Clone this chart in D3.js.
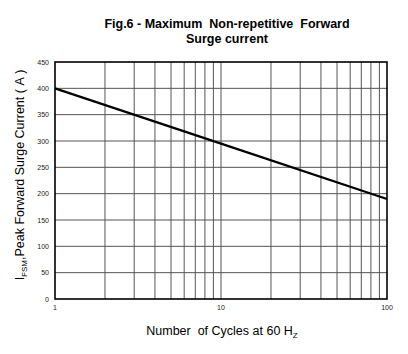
<!DOCTYPE html>
<html>
<head>
<meta charset="utf-8">
<script src="https://d3js.org/d3.v7.min.js"></script>
<style>
  body { margin: 0; background: #fff; }
  text { font-family: "Liberation Sans", Arial, sans-serif; }
</style>
</head>
<body>
<script>
// data
let cycles = [1, 10, 100];
let current = [400, 295, 190];
let yTicks = [0, 50, 100, 150, 200, 250, 300, 350, 400, 450];
let xTickLabels = [1, 10, 100];

let width = 408, height = 354;
let margin = {left: 55, right: 21, top: 62, bottom: 55};

let svg = d3.select("body").append("svg")
    .attr("width", width)
    .attr("height", height);

let x = d3.scaleLog().domain([1, 100]).range([margin.left, width - margin.right]);
let y = d3.scaleLinear().domain([0, 450]).range([height - margin.bottom, margin.top]);

// vertical grid (log minor lines)
let vlines = [];
for (let d = 1; d < 100; d *= 10)
    for (let k = 2; k <= 9; k++) vlines.push(d * k);
vlines.push(10);

svg.append("g").selectAll("line")
    .data(vlines)
    .join("line")
        .attr("x1", d => x(d)).attr("x2", d => x(d))
        .attr("y1", y(0)).attr("y2", y(450))
        .attr("stroke", "#555")
        .attr("stroke-width", 1);

svg.append("g").selectAll("line")
    .data(yTicks.slice(1, -1))
    .join("line")
        .attr("x1", x(1)).attr("x2", x(100))
        .attr("y1", d => y(d)).attr("y2", d => y(d))
        .attr("stroke", "#555")
        .attr("stroke-width", 1);

// frame
svg.append("rect")
    .attr("x", x(1)).attr("y", y(450))
    .attr("width", x(100) - x(1))
    .attr("height", y(0) - y(450))
    .attr("fill", "none")
    .attr("stroke", "#000")
    .attr("stroke-width", 1.6);

// curve
let line = d3.line().x(d => x(d[0])).y(d => y(d[1]));
svg.append("path")
    .datum(cycles.map((c, i) => [c, current[i]]))
    .attr("d", line)
    .attr("fill", "none")
    .attr("stroke", "#000")
    .attr("stroke-width", 2.2);

// tick labels
svg.append("g").selectAll("text")
    .data(yTicks)
    .join("text")
        .attr("x", x(1) - 6)
        .attr("y", d => y(d) + 2.5)
        .attr("text-anchor", "end")
        .attr("font-size", 7)
        .attr("fill", "#222")
        .text(d => d);

svg.append("g").selectAll("text")
    .data(xTickLabels)
    .join("text")
        .attr("x", d => x(d))
        .attr("y", y(0) + 11)
        .attr("text-anchor", "middle")
        .attr("font-size", 7)
        .attr("fill", "#222")
        .text(d => d);

// title
let title = svg.append("text")
    .attr("text-anchor", "middle")
    .attr("font-size", 12.5)
    .attr("font-weight", "bold");
title.append("tspan").attr("x", 227).attr("y", 28).text("Fig.6 - Maximum\u00a0 Non-repetitive\u00a0 Forward");
title.append("tspan").attr("x", 227).attr("y", 43).text("Surge current");

// x label
let xl = svg.append("text")
    .attr("x", 222)
    .attr("y", 335)
    .attr("text-anchor", "middle")
    .attr("font-size", 12.5);
xl.append("tspan").text("Number\u00a0 of Cycles at 60 H");
xl.append("tspan").attr("font-size", 8).attr("dy", 3).text("Z");

// y label
let yl = svg.append("text")
    .attr("transform", "translate(24," + 175 + ") rotate(-90)")
    .attr("text-anchor", "middle")
    .attr("font-size", 12.5);
yl.append("tspan").text("I");
yl.append("tspan").attr("font-size", 8).attr("dy", 3).text("FSM");
yl.append("tspan").attr("dy", -3).text(",Peak Forward Surge Current\u00a0(\u00a0A\u00a0)");
</script>
</body>
</html>
